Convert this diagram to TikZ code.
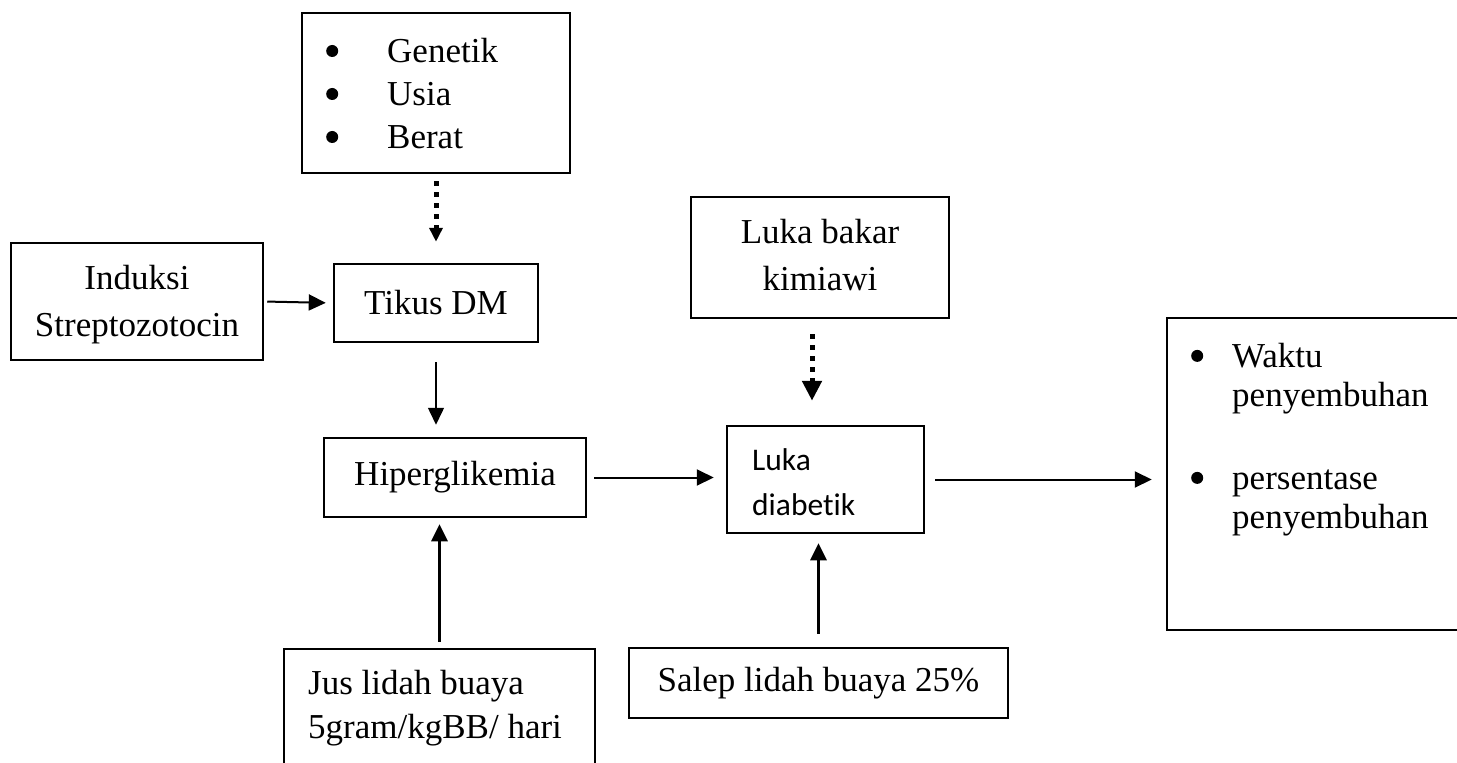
\documentclass[tikz,border=0pt]{standalone}
\usepackage{fontspec}
\setmainfont{Liberation Serif}
\newfontfamily\calibrifont[Ligatures={NoCommon}]{Carlito}
\usetikzlibrary{arrows.meta,calc}
\newcommand\bigbul{\tikz[baseline=-12pt]\fill (0pt,0pt) circle[radius=6pt];}
\begin{document}
\begin{tikzpicture}[x=1pt,y=-1pt,
  box/.style={draw, line width=2.5pt, inner sep=0pt, align=center,
    font=\fontsize{35}{47}\selectfont},
  txt/.style={inner sep=0pt, align=left},
  arr/.style={-{Triangle[length=17pt,width=16pt]}, line width=2pt},
  dotarr/.style={line width=5pt, dash pattern=on 5pt off 6pt,
    -{Triangle[length=14pt,width=13pt]}},
  dotarrbig/.style={line width=5pt, dash pattern=on 5pt off 6pt,
    -{Triangle[length=20pt,width=19pt]}},
]
\useasboundingbox (0,0) rectangle (1457,763);

% boxes
\node[box, minimum width=268pt, minimum height=160pt] (factors) at (436,93) {};
\node[txt, anchor=west, font=\fontsize{35}{43}\selectfont] (factorlist) at (326,94)
  {\makebox[61pt][l]{\bigbul}Genetik\\\makebox[61pt][l]{\bigbul}Usia\\\makebox[61pt][l]{\bigbul}Berat};

\node[box, minimum width=252pt, minimum height=117pt] (induksi) at (137,301.5) {};
\node[txt, align=center, font=\fontsize{35}{47}\selectfont] (induksitext) at (137,305)
  {Induksi\\Streptozotocin};
\node[box, minimum width=204pt, minimum height=78pt] (tikus) at (436,303) {Tikus DM};
\node[box, minimum width=262pt, minimum height=79pt] (hiper) at (455,477.5) {Hiperglikemia};
\node[box, minimum width=258pt, minimum height=121pt] (bakar) at (820,257.5) {};
\node[txt, align=center, font=\fontsize{35}{47}\selectfont] (bakartext) at (820,255)
  {Luka bakar\\kimiawi};

\node[box, minimum width=197pt, minimum height=107pt] (diab) at (825.5,479.5) {};
\node[txt, anchor=west, font=\calibrifont\fontsize{31.5}{45}\selectfont] (diabtext)
  at (752,482) {Luka\\diabetik};

\node[box, minimum width=303pt, minimum height=312pt] (result) at (1318.5,474) {};
\node[txt, anchor=west, font=\fontsize{35}{39}\selectfont] (resulttext) at (1191,440)
  {\makebox[41pt][l]{\bigbul}Waktu\\\hspace*{41pt}penyembuhan\\[44pt]%
   \makebox[41pt][l]{\bigbul}persentase\\\hspace*{41pt}penyembuhan};

\node[box, minimum width=311pt, minimum height=171pt] (jus) at (439.5,734.5) {};
\node[txt, anchor=west, font=\fontsize{35}{44}\selectfont] (justext) at (308,708)
  {Jus lidah buaya\\5gram/kgBB/ hari};

\node[box, minimum width=379pt, minimum height=70pt] (salep) at (818.5,683)
  {Salep lidah buaya 25\%};

% connectors
\draw[dotarr, shorten <=7pt, shorten >=21pt] (factors.south) -- (tikus.north);
\draw[arr, shorten <=3pt, shorten >=7pt] (induksi.east) -- (tikus.west);
\draw[arr, line width=1.5pt, shorten <=19pt, shorten >=12pt]
  (tikus.south) -- (tikus.south |- hiper.north);
\draw[arr, line width=3pt, shorten <=6pt, shorten >=6pt]
  (jus.north) -- (jus.north |- hiper.south);
\draw[arr, shorten <=7pt, shorten >=12pt] (hiper.east) -- (hiper.east -| diab.west);
\coordinate (bakarout) at ($(bakar.south)+(-8,0)$);
\draw[dotarrbig, shorten <=15pt, shorten >=24pt] (bakarout) -- (bakarout |- diab.north);
\draw[arr, line width=3pt, shorten <=13pt, shorten >=9pt]
  (salep.north) -- (salep.north |- diab.south);
\draw[arr, shorten <=10pt, shorten >=14pt] (diab.east) -- (diab.east -| result.west);
\end{tikzpicture}
\end{document}
